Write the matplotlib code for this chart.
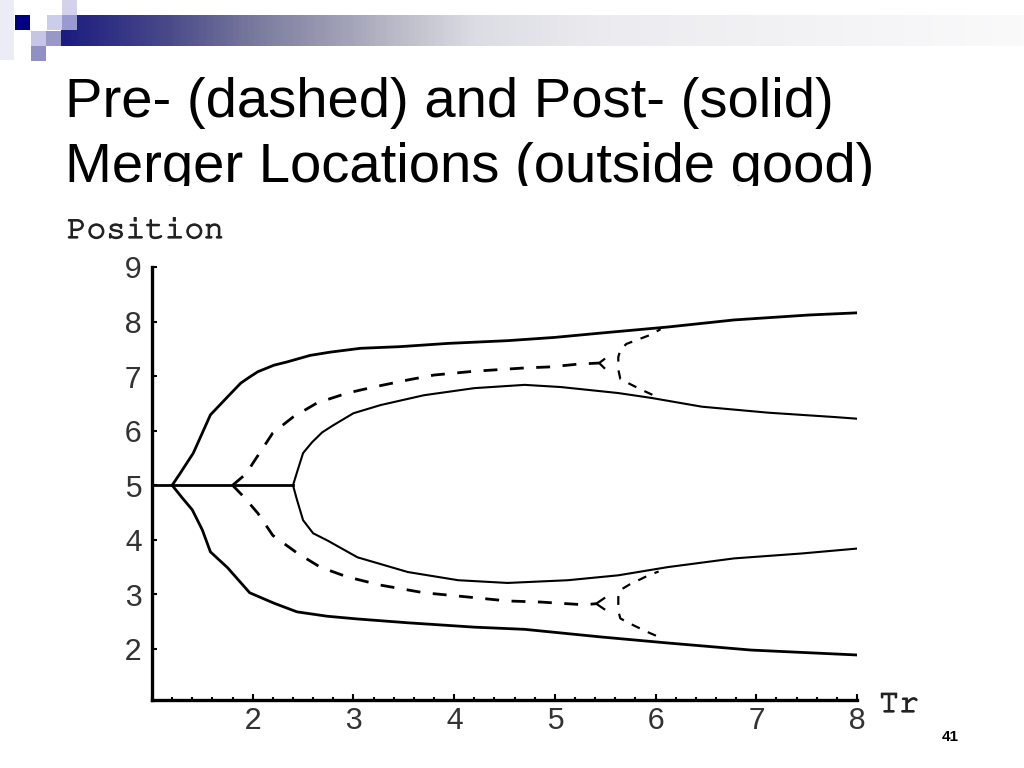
import matplotlib
matplotlib.use("Agg")
import matplotlib.pyplot as plt
import matplotlib.patheffects as pe
import numpy as np
from matplotlib import font_manager
from matplotlib.colors import LinearSegmentedColormap
from matplotlib.patches import Rectangle
from matplotlib.ticker import FixedLocator, MultipleLocator

# ---- data (Tr, Position) ----
flat_tr = [1.0, 2.40]
flat_pos = [5.0, 5.0]

# post-merger (solid), outer pair
post_outer_up_tr = [1.2, 1.28, 1.41, 1.50, 1.58, 1.75, 1.88, 1.95, 2.05, 2.21, 2.34, 2.57, 2.77,
                    3.07, 3.46, 3.94, 4.53, 5.0, 5.46, 6.12, 6.78, 7.52, 8.0]
post_outer_up_pos = [5.0, 5.22, 5.59, 5.96, 6.29, 6.62, 6.87, 6.96, 7.08, 7.2, 7.26, 7.38, 7.44,
                     7.51, 7.54, 7.60, 7.65, 7.71, 7.79, 7.90, 8.03, 8.12, 8.16]
post_outer_lo_tr = [1.2, 1.30, 1.40, 1.50, 1.58, 1.75, 1.97, 2.21, 2.44, 2.74, 3.04, 3.54,
                    4.20, 4.70, 5.46, 6.12, 6.95, 8.0]
post_outer_lo_pos = [5.0, 4.77, 4.55, 4.18, 3.78, 3.49, 3.03, 2.84, 2.68, 2.60, 2.55, 2.48,
                     2.40, 2.36, 2.22, 2.11, 1.98, 1.89]

# post-merger (solid), inner pair
post_inner_up_tr = [2.40, 2.44, 2.50, 2.59, 2.69, 2.80, 3.00, 3.27, 3.70, 4.20, 4.70, 5.06,
                    5.63, 5.96, 6.46, 7.12, 7.78, 8.0]
post_inner_up_pos = [5.0, 5.24, 5.59, 5.79, 5.97, 6.10, 6.32, 6.47, 6.65, 6.78, 6.84, 6.80,
                     6.69, 6.60, 6.44, 6.33, 6.25, 6.22]
post_inner_lo_tr = [2.40, 2.44, 2.50, 2.60, 2.74, 3.04, 3.54, 4.04, 4.53, 5.13, 5.63, 6.12,
                    6.78, 7.45, 8.0]
post_inner_lo_pos = [5.0, 4.73, 4.36, 4.12, 3.99, 3.68, 3.41, 3.26, 3.21, 3.26, 3.35, 3.50,
                     3.66, 3.75, 3.84]

# pre-merger (dashed)
pre_up_tr = [1.80, 1.94, 2.0, 2.10, 2.20, 2.40, 2.64, 2.94, 3.20, 3.54, 3.80, 4.20, 4.70,
             4.96, 5.23, 5.44]
pre_up_pos = [5.0, 5.22, 5.40, 5.68, 5.96, 6.25, 6.51, 6.69, 6.80, 6.93, 7.02, 7.09, 7.15,
              7.17, 7.22, 7.24]
pre_lo_tr = [1.80, 1.91, 2.05, 2.20, 2.44, 2.67, 2.94, 3.27, 3.70, 4.04, 4.53, 4.86, 5.29, 5.41]
pre_lo_pos = [5.0, 4.79, 4.49, 4.08, 3.76, 3.50, 3.32, 3.17, 3.03, 2.97, 2.88, 2.86, 2.81, 2.83]

# small forks at the ends of the pre-merger curves
fork_up_tr = [5.49, 5.44, 5.49]
fork_up_pos = [7.31, 7.24, 7.15]
fork_lo_tr = [5.49, 5.41, 5.49]
fork_lo_pos = [2.93, 2.83, 2.73]

# pre-merger branches that appear near Tr = 5.6
pre_c_up_tr = [6.05, 5.94, 5.81, 5.71, 5.65, 5.63, 5.63, 5.65, 5.73, 5.86, 5.99]
pre_c_up_pos = [7.86, 7.75, 7.66, 7.59, 7.48, 7.35, 7.12, 6.95, 6.87, 6.75, 6.64]
pre_c_lo_tr = [6.03, 5.92, 5.74, 5.65, 5.63, 5.63, 5.65, 5.74, 5.92, 6.06]
pre_c_lo_pos = [3.42, 3.34, 3.18, 3.08, 2.95, 2.70, 2.56, 2.47, 2.31, 2.20]

x_major = [2, 3, 4, 5, 6, 7, 8]
y_major = [2, 3, 4, 5, 6, 7, 8, 9]

title_lines = ["Pre- (dashed) and Post- (solid)", "Merger Locations (outside good)"]

# courier-like font if one is around, else Liberation Mono
installed = {f.name for f in font_manager.fontManager.ttflist}
mono = next((f for f in ["Courier New", "Courier", "Nimbus Mono PS", "FreeMono"]
             if f in installed), "Liberation Mono")

# ---- figure ----
fig = plt.figure(figsize=(10.24, 7.68), dpi=100)

# background layer in pixel coords (slide decoration + texts)
bg = fig.add_axes([0, 0, 1, 1], zorder=0)
bg.set_xlim(0, 1024)
bg.set_ylim(768, 0)
bg.axis("off")

grad = LinearSegmentedColormap.from_list(
    "bar",
    [(0.0, "#1c1c80"), (0.11, "#4a4a8a"), (0.20, "#7a7a9e"), (0.29, "#a0a0b6"),
     (0.36, "#c0c0cc"), (0.43, "#dcdce4"), (0.57, "#ececf0"), (1.0, "#fafafb")])
bg.imshow(np.linspace(0, 1, 400)[None, :], cmap=grad, aspect="auto",
          extent=(61, 1024, 46, 15), zorder=1)
squares = [((0, 0), 14, 60, "#ececf6"), ((15, 15), 15, 15, "#000080"),
           ((47, 15), 15, 15, "#ccccec"), ((62, 15), 15, 15, "#9a9ad0"),
           ((62, 0), 15, 15, "#d2d2ec"), ((31, 31), 15, 15, "#c6c6e4"),
           ((46, 31), 15, 15, "#9898c8"), ((31, 46), 15, 15, "#9090c4")]
for (x0, y0), w, h, c in squares:
    bg.add_patch(Rectangle((x0, y0), w, h, facecolor=c, edgecolor="none", zorder=2))

bg.text(65, 117, title_lines[0], fontsize=40.5, family="Liberation Sans", va="baseline", zorder=3)
bg.text(65, 182, title_lines[1], fontsize=40.5, family="Liberation Sans", va="baseline", zorder=3)
# second title line is cut off at the bottom in the slide
bg.add_patch(Rectangle((40, 186), 900, 25, facecolor="white", edgecolor="none", zorder=4))

thick = [pe.withStroke(linewidth=0.9, foreground="#222222")]
bg.text(67, 238, "Position", fontsize=23.5, family=mono, va="baseline",
        color="#222222", path_effects=thick, zorder=3)
bg.text(879, 712, "Tr", fontsize=24, family=mono, va="baseline",
        color="#222222", path_effects=thick, zorder=3)
bg.text(950, 737, "41", fontsize=11, family="Liberation Sans", weight="bold",
        ha="center", va="center", zorder=3)

# plot axes
ax = fig.add_axes([152 / 1024, 68 / 768, 705 / 1024, 433 / 768], zorder=1)
ax.patch.set_alpha(0)
ax.set_xlim(1, 8)
ax.set_ylim(1.065, 9)

solid_kw = dict(color="black", lw=2.0, solid_joinstyle="miter")
dash_kw = dict(color="black", lw=2.0, linestyle=(0, (5, 4.5)))

ax.plot(flat_tr, flat_pos, **solid_kw)
ax.plot(post_outer_up_tr, post_outer_up_pos, **solid_kw)
ax.plot(post_outer_lo_tr, post_outer_lo_pos, **solid_kw)
ax.plot(post_inner_up_tr, post_inner_up_pos, color="black", lw=1.5)
ax.plot(post_inner_lo_tr, post_inner_lo_pos, color="black", lw=1.5)

ax.plot(pre_up_tr, pre_up_pos, **dash_kw)
ax.plot(pre_lo_tr, pre_lo_pos, **dash_kw)
ax.plot(fork_up_tr, fork_up_pos, color="black", lw=1.6)
ax.plot(fork_lo_tr, fork_lo_pos, color="black", lw=1.6)
ax.plot(pre_c_up_tr, pre_c_up_pos, color="black", lw=1.6, linestyle=(2, (4, 4)))
ax.plot(pre_c_lo_tr, pre_c_lo_pos, color="black", lw=1.6, linestyle=(2, (4, 4)))

for s in ["top", "right"]:
    ax.spines[s].set_visible(False)
for s in ["left", "bottom"]:
    ax.spines[s].set_linewidth(2.4)

ax.xaxis.set_major_locator(FixedLocator(x_major))
ax.xaxis.set_minor_locator(MultipleLocator(0.2))
ax.yaxis.set_major_locator(FixedLocator(y_major))
ax.tick_params(axis="x", which="major", direction="in", length=4, width=1.5, pad=4)
ax.tick_params(axis="x", which="minor", direction="in", length=2.5, width=1.5)
ax.tick_params(axis="y", which="major", direction="in", length=3.5, width=1.5, pad=7)
ax.tick_params(axis="both", which="major", labelsize=22, labelcolor="#333333",
               labelfontfamily="Liberation Mono")

fig.savefig("out.png", dpi=100)
